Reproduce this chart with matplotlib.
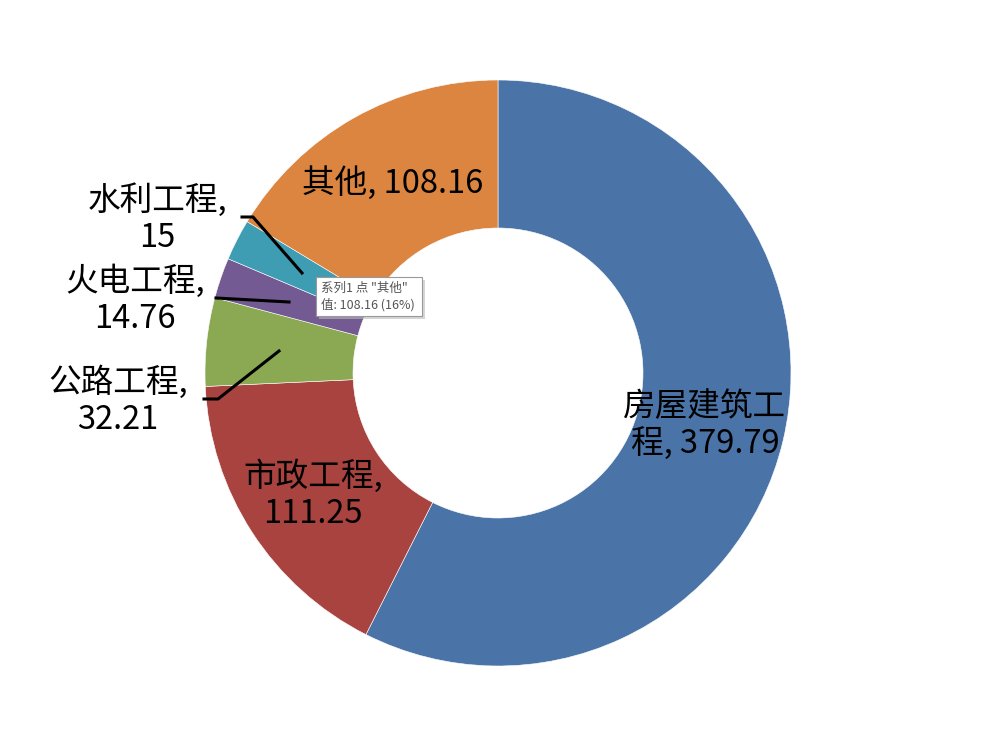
import matplotlib
matplotlib.use('Agg')
import matplotlib.pyplot as plt
from matplotlib.patches import Rectangle

plt.rcParams['font.family'] = ['Noto Sans CJK SC', 'DejaVu Sans']

names = ["房屋建筑工程", "市政工程", "公路工程", "火电工程", "水利工程", "其他"]
values = [379.79, 111.25, 32.21, 14.76, 15, 108.16]
value_text = ["379.79", "111.25", "32.21", "14.76", "15", "108.16"]
colors = ["#4A74A8", "#A8433F", "#8BA853", "#735A92", "#3F9DB3", "#DB8540"]

fig = plt.figure(figsize=(9.94, 7.44), dpi=100)
ax = fig.add_axes([0, 0, 1, 1])

# y axis is flipped (pixel coords), so counterclock in data = clockwise on screen
wedges, _ = ax.pie(values, colors=colors, startangle=-90, counterclock=True,
                   center=(498, 373), radius=293, frame=True,
                   wedgeprops=dict(width=148, edgecolor='white', linewidth=0.4))
ax.set_xlim(0, 994)
ax.set_ylim(744, 0)
ax.set_aspect('equal')
ax.axis('off')

fs = 23.5
# data labels (positions)
ax.text(705, 426, "房屋建筑工\n程, " + value_text[0], fontsize=fs, ha='center', va='center', linespacing=1.2)
ax.text(313, 495, "市政工程,\n" + value_text[1], fontsize=fs, ha='center', va='center', linespacing=1.2)
ax.text(118, 401, "公路工程,\n" + value_text[2], fontsize=fs, ha='center', va='center', linespacing=1.2)
ax.text(135, 300, "火电工程,\n" + value_text[3], fontsize=fs, ha='center', va='center', linespacing=1.2)
ax.text(157, 219, "水利工程,\n" + value_text[4], fontsize=fs, ha='center', va='center', linespacing=1.2)
ax.text(393, 183, "其他, " + value_text[5], fontsize=fs, ha='center', va='center')

# leader lines
ax.plot([242, 253, 302], [217, 217, 273], color='black', lw=2.2)
ax.plot([216, 289], [298, 302], color='black', lw=2.2)
ax.plot([204, 218, 279], [399, 399, 351], color='black', lw=2.2)

# tooltip
ax.add_patch(Rectangle((319, 280), 106, 39, facecolor='#bbbbbb', edgecolor='none', alpha=0.6, zorder=5))
ax.add_patch(Rectangle((316, 277), 106, 39, facecolor='white', edgecolor='#999999', lw=0.8, zorder=6))
ax.text(321, 288, '系列1 点 "其他"', fontsize=9, color='#555555', va='center', ha='left', zorder=7)
ax.text(321, 305, '值: 108.16 (16%)', fontsize=9, color='#555555', va='center', ha='left', zorder=7)

plt.savefig("out.png", dpi=100)
